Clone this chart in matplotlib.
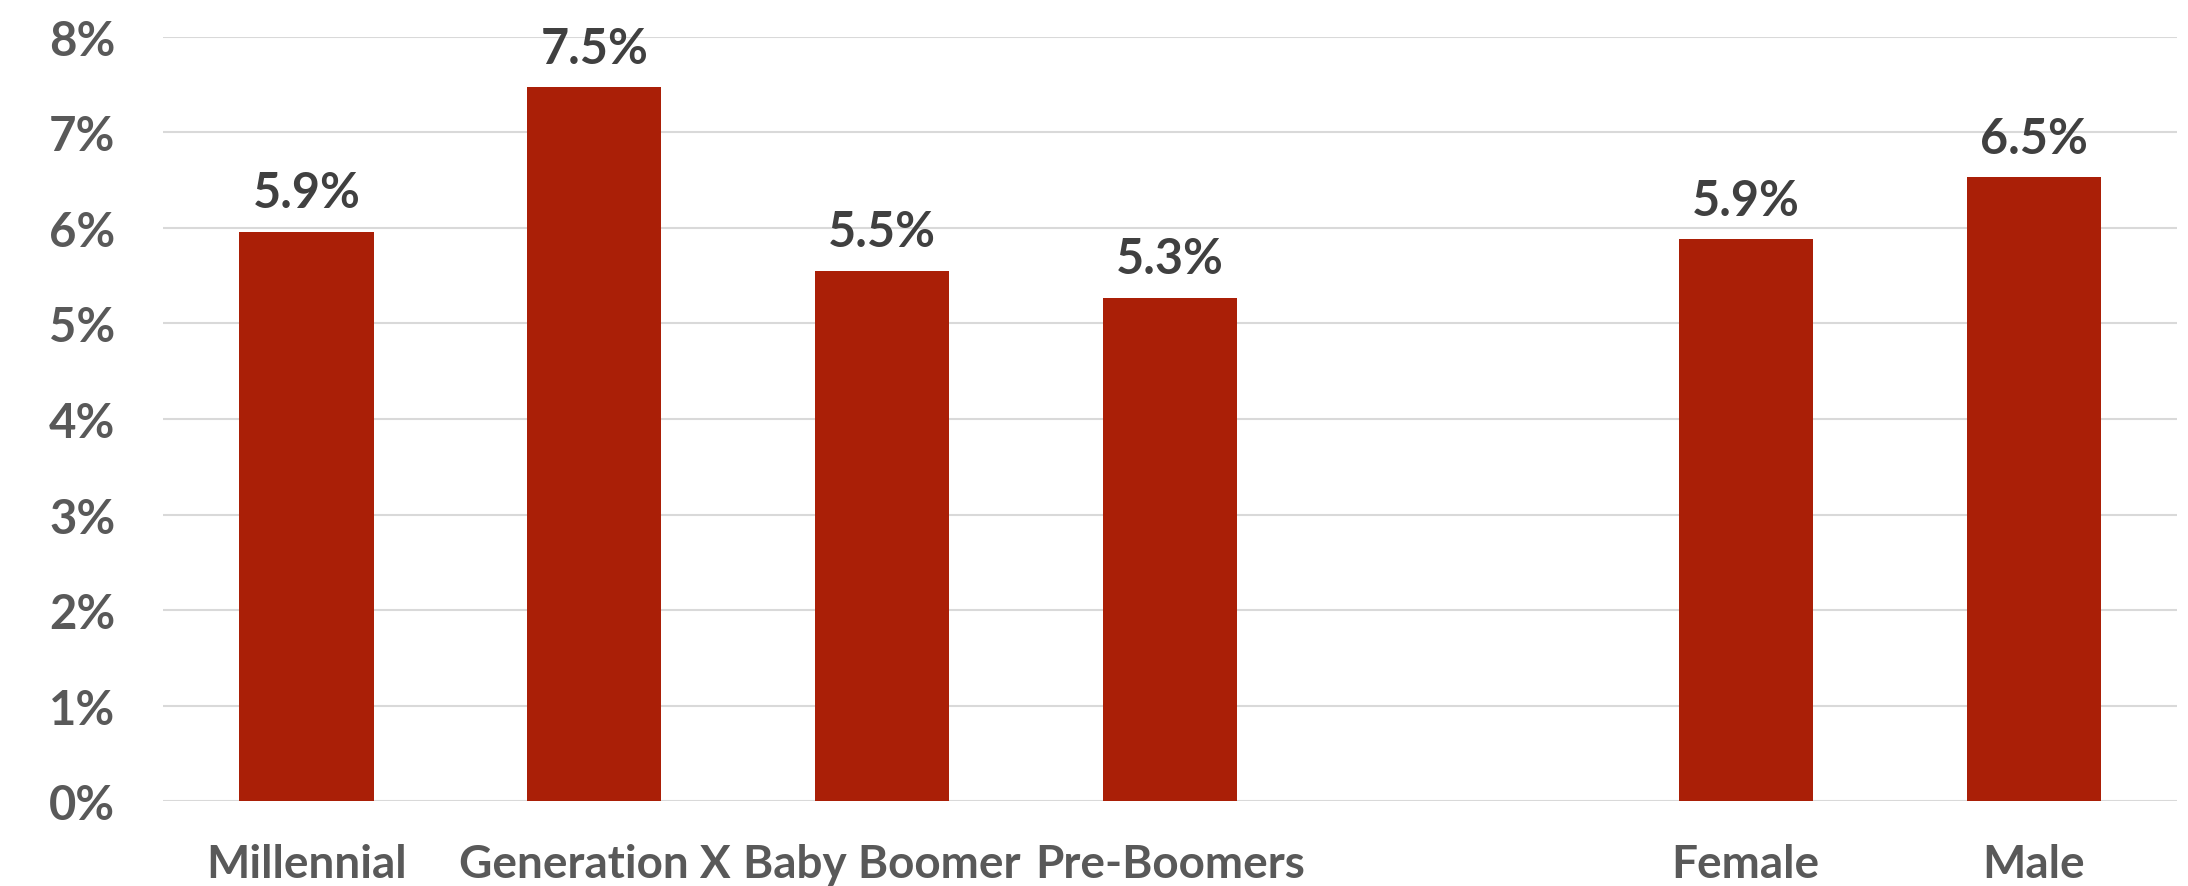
import numpy as np
import matplotlib.pyplot as plt
from matplotlib.ticker import FuncFormatter

# chart data
categories = ["Millennial", "Generation X", "Baby Boomer", "Pre-Boomers", "", "Female", "Male"]
values = [5.96, 7.47, 5.55, 5.27, np.nan, 5.88, 6.53]
labels = ["5.9%", "7.5%", "5.5%", "5.3%", "", "5.9%", "6.5%"]
y_ticks = [0, 1, 2, 3, 4, 5, 6, 7, 8]

bar_color = "#AA1F07"
label_color = "#404040"
tick_color = "#595959"

plt.rcParams["font.family"] = ["Lato", "DejaVu Sans"]
plt.rcParams["font.weight"] = "bold"

fig = plt.figure(figsize=(21.88, 8.87), dpi=100)
ax = fig.add_axes([0.0743, 0.0955, 0.9209, 0.862])

x = np.arange(len(categories))
bars = ax.bar(x, values, width=0.466, color=bar_color, zorder=3)

for rect, text in zip(bars, labels):
    if not text:
        continue
    ax.annotate(text, (rect.get_x() + rect.get_width() / 2, rect.get_height()),
                xytext=(0, 12), textcoords="offset points",
                ha="center", va="bottom", fontsize=35, fontweight="bold",
                color=label_color)

ax.set_xlim(-0.5, len(categories) - 0.5)
ax.set_ylim(0, 8)
ax.set_yticks(y_ticks)
ax.yaxis.set_major_formatter(FuncFormatter(lambda v, _: f"{v:.0f}%"))
ax.set_xticks(x)
ax.set_xticklabels(categories)

ax.tick_params(axis="y", length=0, pad=34, labelsize=34, labelcolor=tick_color)
ax.tick_params(axis="x", length=0, pad=30, labelsize=33, labelcolor=tick_color)
for lab in ax.get_xticklabels() + ax.get_yticklabels():
    lab.set_fontweight("bold")

ax.grid(axis="y", color="#D9D9D9", linewidth=1.5, zorder=0)
for side in ["top", "right", "left", "bottom"]:
    ax.spines[side].set_visible(False)

fig.savefig("out.png", dpi=100)
